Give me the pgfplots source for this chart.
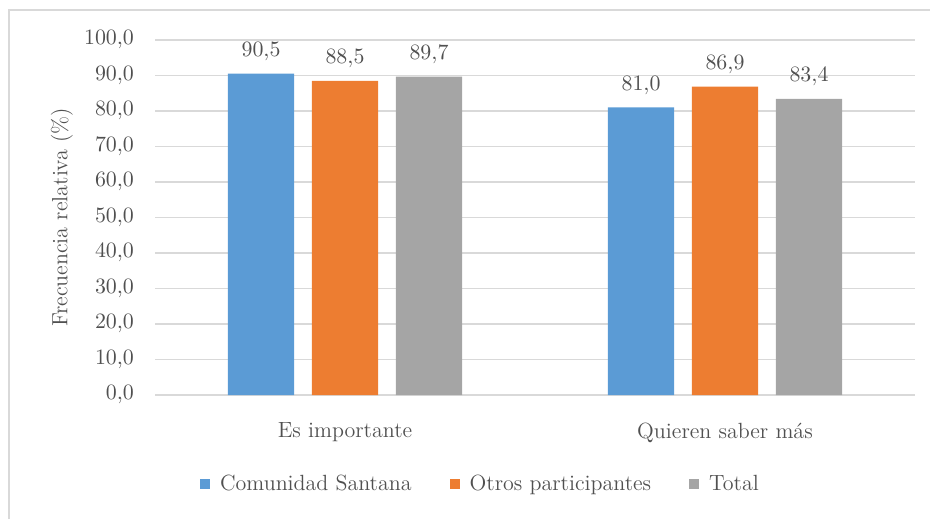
\documentclass[border=0pt]{standalone}
\usepackage{pgfplots}
\pgfplotsset{compat=1.18}
\definecolor{cblue}{RGB}{91,155,213}
\definecolor{corange}{RGB}{237,125,49}
\definecolor{cgray}{RGB}{165,165,165}
\definecolor{gridc}{RGB}{217,217,217}
\definecolor{txt}{RGB}{80,80,80}
\newcommand{\chartfont}{\fontsize{11}{13}\selectfont}
\begin{document}
\begin{tikzpicture}
\useasboundingbox (0pt,0pt) rectangle (465pt,259.5pt);
% frame of the chart area
\draw[gridc, line width=0.6pt] (4.5pt,0pt) -- (4.5pt,254.5pt) -- (465pt,254.5pt);
\begin{axis}[
    at={(77.5pt,62pt)}, anchor=south west,
    width=380pt, height=177.5pt, scale only axis,
    xmin=-0.5, xmax=1.5, ymin=0, ymax=100,
    ytick={0,10,...,100},
    xtick={0,1},
    xticklabels={Es importante, Quieren saber más},
    axis line style={draw=none},
    tick style={draw=none},
    ymajorgrids,
    grid style={gridc, line width=0.6pt},
    yticklabel={\pgfmathprintnumber[fixed,fixed zerofill,precision=1,use comma]{\tick}},
    yticklabel style={font=\chartfont, text=txt, xshift=-7pt},
    xticklabel style={font=\chartfont, text=txt, yshift=-6pt},
    ylabel={Frecuencia relativa (\%)},
    ylabel style={font=\chartfont, text=txt, at={(axis description cs:-0.1224,0.5)}, anchor=center},
    ybar,
    bar width=0.174,
    nodes near coords={\pgfmathprintnumber[fixed,fixed zerofill,precision=1,use comma]{\pgfplotspointmeta}},
    nodes near coords style={font=\chartfont, text=txt, yshift=3pt},
    legend columns=3,
    legend cell align=left,
    legend image code/.code={\fill[#1] (0pt,-2.5pt) rectangle (5pt,2.5pt);},
    legend style={at={(axis description cs:0.4296,-0.2507)}, anchor=center,
        draw=none, font=\chartfont, text=txt,
        /tikz/every odd column/.append style={column sep=3pt},
        /tikz/every even column/.append style={column sep=17pt}},
]
\addplot[fill=cblue, draw=none, bar shift=-0.221] coordinates {(0,90.5) (1,81.0)};
\addplot[fill=corange, draw=none, bar shift=0] coordinates {(0,88.5) (1,86.9)};
\addplot[fill=cgray, draw=none, bar shift=0.221] coordinates {(0,89.7) (1,83.4)};
\legend{Comunidad Santana, Otros participantes, Total}
\end{axis}
\end{tikzpicture}
\end{document}
